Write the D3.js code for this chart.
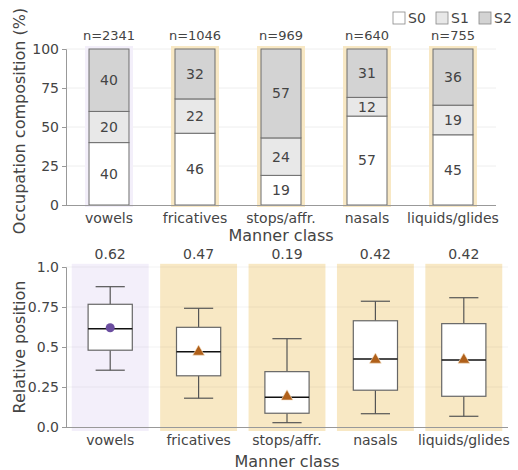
<!DOCTYPE html>
<html>
<head>
<meta charset="utf-8">
<script src="https://cdn.jsdelivr.net/npm/d3@7"></script>
<style>
  body { margin: 0; background: #fff; }
  text { font-family: "DejaVu Sans", sans-serif; fill: #444; }
</style>
</head>
<body>
<div id="chart"></div>
<script>
// data
var categories = ["vowels", "fricatives", "stops/affr.", "nasals", "liquids/glides"];
var counts = [2341, 1046, 969, 640, 755];
var s0 = [40, 46, 19, 57, 45];
var s1 = [20, 22, 24, 12, 19];
var s2 = [40, 32, 57, 31, 36];
var stateNames = ["S0", "S1", "S2"];
var topTicks = [0, 25, 50, 75, 100];

var whiskerLow = [0.355, 0.18, 0.027, 0.083, 0.067];
var q1 = [0.48, 0.32, 0.086, 0.23, 0.192];
var median = [0.614, 0.47, 0.186, 0.425, 0.419];
var q3 = [0.767, 0.623, 0.346, 0.664, 0.646];
var whiskerHigh = [0.877, 0.742, 0.552, 0.786, 0.808];
var means = [0.62, 0.47, 0.19, 0.42, 0.42];
var bottomTicks = [0.0, 0.25, 0.5, 0.75, 1.0];

var segColors = ["#ffffff", "#e8e8e8", "#d3d3d3"];
var hlColor = function(i) { return i === 0 ? "#f3effa" : "#f8e8c4"; };

var svg = d3.select("#chart").append("svg")
    .attr("width", 518).attr("height", 470);

// ---------- top panel: stacked composition ----------
var xTop = d3.scaleBand().domain(categories).range([66, 496]).padding(0);
var yTop = d3.scaleLinear().domain([0, 100]).range([205, 49]);
var barW = xTop.bandwidth() * 0.465;
var cx = function(c) { return xTop(c) + xTop.bandwidth() / 2; };

var gTop = svg.append("g");

// gridlines
gTop.selectAll(".grid").data(topTicks.slice(1)).enter().append("line")
    .attr("x1", 66).attr("x2", 496)
    .attr("y1", d => yTop(d)).attr("y2", d => yTop(d))
    .attr("stroke", "#eeeeee").attr("stroke-width", 1);

// highlight behind bars
gTop.selectAll(".hl").data(categories).enter().append("rect")
    .attr("x", d => cx(d) - barW / 2 - 4)
    .attr("width", barW + 8)
    .attr("y", yTop(100) - 3)
    .attr("height", yTop(0) - yTop(100) + 5)
    .attr("fill", (d, i) => hlColor(i));

var stacked = categories.map(function(c, i) {
  var vals = [s0[i], s1[i], s2[i]];
  var acc = 0;
  return vals.map(function(v, k) {
    var seg = { cat: c, k: k, v: v, y0: acc, y1: acc + v };
    acc += v;
    return seg;
  });
});
var segs = [].concat.apply([], stacked);

gTop.selectAll(".seg").data(segs).enter().append("rect")
    .attr("x", d => cx(d.cat) - barW / 2)
    .attr("width", barW)
    .attr("y", d => yTop(d.y1))
    .attr("height", d => yTop(d.y0) - yTop(d.y1))
    .attr("fill", d => segColors[d.k])
    .attr("stroke", "#6e6e6e").attr("stroke-width", 1);

gTop.selectAll(".segLabel").data(segs).enter().append("text")
    .attr("x", d => cx(d.cat))
    .attr("y", d => yTop((d.y0 + d.y1) / 2))
    .attr("dy", "0.35em")
    .attr("text-anchor", "middle")
    .style("font-size", "14px")
    .text(d => d.v);

gTop.selectAll(".nLabel").data(categories).enter().append("text")
    .attr("x", d => cx(d))
    .attr("y", 40)
    .attr("text-anchor", "middle")
    .style("font-size", "13px")
    .text((d, i) => "n=" + counts[i]);

// axes
var axTopY = gTop.append("g").attr("transform", "translate(66,0)")
    .call(d3.axisLeft(yTop).tickValues(topTicks).tickSize(4).tickPadding(3));
var axTopX = gTop.append("g").attr("transform", "translate(0,205)")
    .call(d3.axisBottom(xTop).tickSize(0).tickPadding(8));
axTopX.select(".domain").attr("d", "M66,0.5H496");

// legend
var leg = gTop.selectAll(".leg").data(stateNames).enter().append("g")
    .attr("transform", (d, i) => "translate(" + (393 + i * 43) + ",12)");
leg.append("rect").attr("width", 12).attr("height", 12)
    .attr("fill", (d, i) => segColors[i]).attr("stroke", "#888").attr("stroke-width", 0.8);
leg.append("text").attr("x", 15).attr("y", 6).attr("dy", "0.35em")
    .style("font-size", "14px").text(d => d);

gTop.append("text").attr("x", 281).attr("y", 241).attr("text-anchor", "middle")
    .style("font-size", "16px").text("Manner class");
gTop.append("text").attr("transform", "translate(25,121) rotate(-90)")
    .attr("text-anchor", "middle").style("font-size", "16px")
    .text("Occupation composition (%)");

// ---------- bottom panel: box plots ----------
var xBot = d3.scaleBand().domain(categories).range([66, 508]).padding(0);
var yBot = d3.scaleLinear().domain([0, 1]).range([427, 267]);
var step = xBot.bandwidth();
var bx = function(c) { return xBot(c) + step / 2; };
var boxW = step * 0.5, capW = step * 0.33, bgW = step * 0.87;

var gBot = svg.append("g");

gBot.selectAll(".bg").data(categories).enter().append("rect")
    .attr("x", d => bx(d) - bgW / 2)
    .attr("width", bgW)
    .attr("y", yBot(1.02))
    .attr("height", yBot(-0.025) - yBot(1.02))
    .attr("fill", (d, i) => hlColor(i));

gBot.selectAll(".grid").data(bottomTicks.slice(1)).enter().append("line")
    .attr("x1", 66).attr("x2", 508)
    .attr("y1", d => yBot(d)).attr("y2", d => yBot(d))
    .attr("stroke", "#000").attr("stroke-opacity", 0.05);

var boxes = categories.map((c, i) => ({
  cat: c, i: i, lo: whiskerLow[i], q1: q1[i], med: median[i], q3: q3[i], hi: whiskerHigh[i], mean: means[i]
}));

var bg = gBot.selectAll(".box").data(boxes).enter().append("g");
bg.append("line").attr("x1", d => bx(d.cat)).attr("x2", d => bx(d.cat))
    .attr("y1", d => yBot(d.hi)).attr("y2", d => yBot(d.q3))
    .attr("stroke", "#555").attr("stroke-width", 1.2);
bg.append("line").attr("x1", d => bx(d.cat)).attr("x2", d => bx(d.cat))
    .attr("y1", d => yBot(d.q1)).attr("y2", d => yBot(d.lo))
    .attr("stroke", "#555").attr("stroke-width", 1.2);
bg.append("line").attr("x1", d => bx(d.cat) - capW / 2).attr("x2", d => bx(d.cat) + capW / 2)
    .attr("y1", d => yBot(d.hi)).attr("y2", d => yBot(d.hi))
    .attr("stroke", "#555").attr("stroke-width", 1.2);
bg.append("line").attr("x1", d => bx(d.cat) - capW / 2).attr("x2", d => bx(d.cat) + capW / 2)
    .attr("y1", d => yBot(d.lo)).attr("y2", d => yBot(d.lo))
    .attr("stroke", "#555").attr("stroke-width", 1.2);
bg.append("rect").attr("x", d => bx(d.cat) - boxW / 2).attr("width", boxW)
    .attr("y", d => yBot(d.q3)).attr("height", d => yBot(d.q1) - yBot(d.q3))
    .attr("fill", "#fff").attr("stroke", "#666").attr("stroke-width", 1.2);
bg.append("line").attr("x1", d => bx(d.cat) - boxW / 2).attr("x2", d => bx(d.cat) + boxW / 2)
    .attr("y1", d => yBot(d.med)).attr("y2", d => yBot(d.med))
    .attr("stroke", "#111").attr("stroke-width", 1.6);

// mean markers
bg.filter(d => d.i === 0).append("circle")
    .attr("cx", d => bx(d.cat)).attr("cy", d => yBot(d.mean)).attr("r", 4.5)
    .attr("fill", "#6b4ea0");
bg.filter(d => d.i > 0).append("path")
    .attr("transform", d => "translate(" + bx(d.cat) + "," + yBot(d.mean) + ")")
    .attr("d", d3.symbol().type(d3.symbolTriangle).size(60))
    .attr("fill", "#b0601a").attr("stroke", "#f6e3c8").attr("stroke-width", 0.6);

gBot.selectAll(".meanLabel").data(boxes).enter().append("text")
    .attr("x", d => bx(d.cat)).attr("y", 259)
    .attr("text-anchor", "middle").style("font-size", "14px")
    .text(d => d.mean.toFixed(2));

var axBotY = gBot.append("g").attr("transform", "translate(66,0)")
    .call(d3.axisLeft(yBot).tickValues(bottomTicks).tickSize(4).tickPadding(3)
      .tickFormat(d => d === 0 ? "0.0" : d === 1 ? "1.0" : String(d)));
var axBotX = gBot.append("g").attr("transform", "translate(0,427)")
    .call(d3.axisBottom(xBot).tickSize(0).tickPadding(8));
axBotX.select(".domain").attr("d", "M66,0.5H508");

gBot.append("text").attr("x", 287).attr("y", 467).attr("text-anchor", "middle")
    .style("font-size", "16px").text("Manner class");
gBot.append("text").attr("transform", "translate(25,347) rotate(-90)")
    .attr("text-anchor", "middle").style("font-size", "16px")
    .text("Relative position");

// axis styling
svg.selectAll(".domain").attr("stroke", "#999");
svg.selectAll(".tick line").attr("stroke", "#999");
svg.selectAll(".tick text").style("font-size", "14px").attr("fill", "#444");
</script>
</body>
</html>
